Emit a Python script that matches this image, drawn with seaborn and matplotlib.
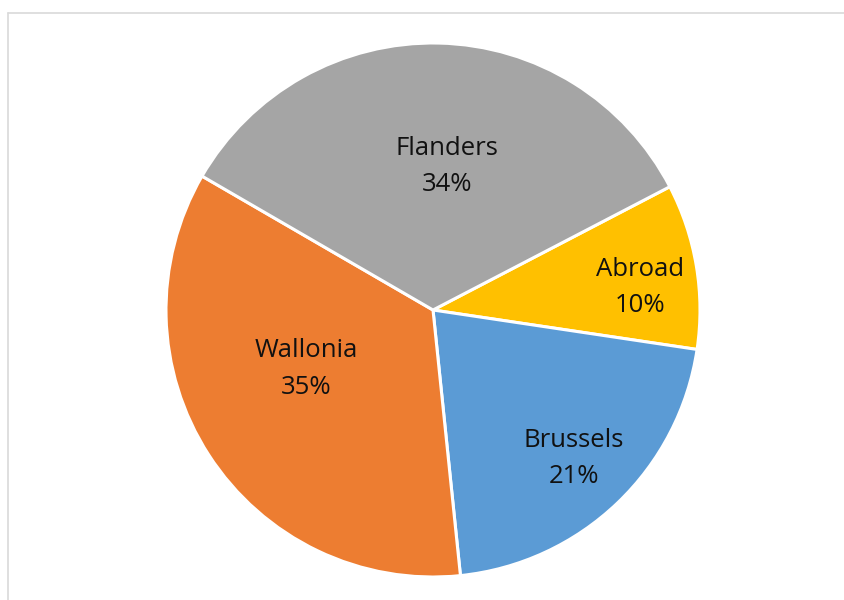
import matplotlib
matplotlib.use("Agg")
import matplotlib.pyplot as plt
from matplotlib.lines import Line2D
import seaborn as sns
import numpy as np

# Share of records by region
regions = ["Abroad", "Brussels", "Wallonia", "Flanders"]
shares = [10, 21, 35, 34]
colors = ["#FFC000", "#5B9BD5", "#ED7D31", "#A5A5A5"]

sns.set_theme(style="white")
plt.rcParams["font.family"] = ["Open Sans", "DejaVu Sans"]

W, H = 845, 600
fig = plt.figure(figsize=(W / 100, H / 100), dpi=100)
cx, cy, r = 433, 310, 267
ax = fig.add_axes([(cx - r) / W, (H - cy - r) / H, 2 * r / W, 2 * r / H])

wedges, _ = ax.pie(
    shares,
    colors=colors,
    startangle=27.5,
    counterclock=False,
    radius=1.0,
    wedgeprops=dict(edgecolor="white", linewidth=2.2),
)
ax.set_xlim(-1, 1)
ax.set_ylim(-1, 1)
ax.set_axis_off()

# label placement: distance from centre (fraction of radius) and angular nudge
label_dist = {"Abroad": 0.78, "Brussels": 0.76, "Wallonia": 0.52, "Flanders": 0.55}
label_nudge = {"Abroad": -2.6, "Brussels": 0.3, "Wallonia": -8.9, "Flanders": -4.2}
for w, name, val in zip(wedges, regions, shares):
    mid = np.deg2rad((w.theta1 + w.theta2) / 2 + label_nudge[name])
    d = label_dist[name]
    ax.text(d * np.cos(mid), d * np.sin(mid) - 0.01, f"{name}\n{val}%",
            ha="center", va="center", fontsize=18.5, color="#111111",
            linespacing=1.6)

# light frame around the chart area
fx, fy = 8.5 / W, 1 - 12.5 / H
fig.add_artist(Line2D([fx, 1], [fy, fy], transform=fig.transFigure,
                      color="#D9D9D9", linewidth=1.2))
fig.add_artist(Line2D([fx, fx], [0, fy], transform=fig.transFigure,
                      color="#D9D9D9", linewidth=1.2))

fig.savefig("out.png", dpi=100)
